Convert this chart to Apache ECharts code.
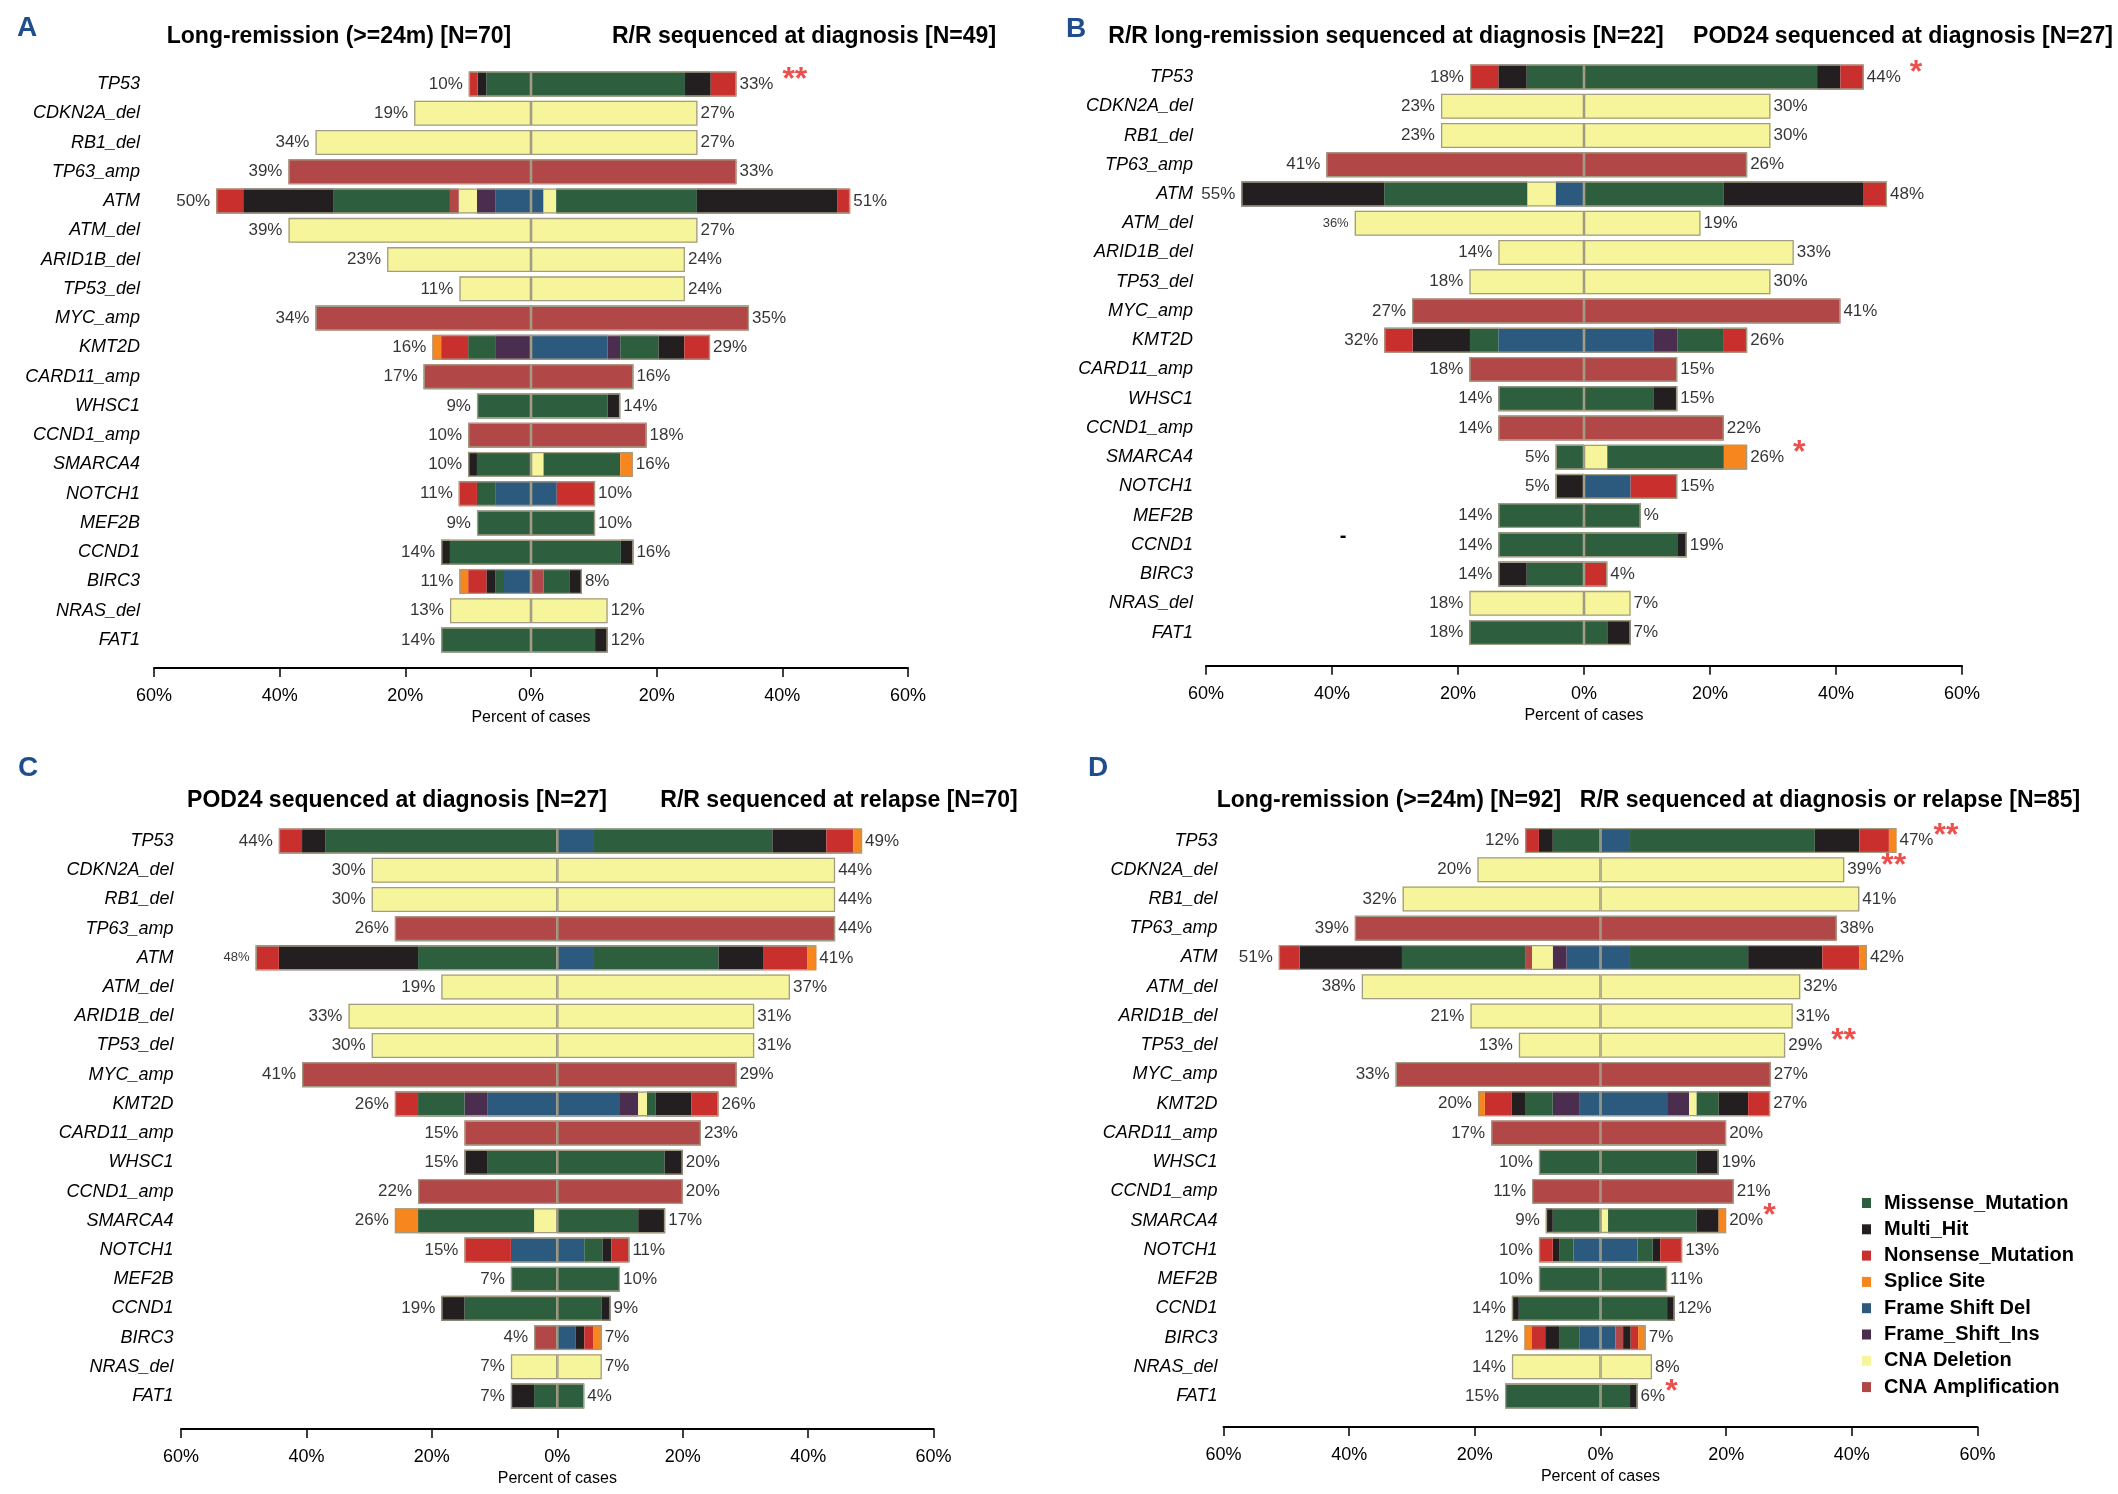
<!DOCTYPE html>
<html>
<head>
<meta charset="utf-8">
<title>Gene alteration frequencies by cohort</title>
<script src="https://cdn.jsdelivr.net/npm/echarts@6/dist/echarts.min.js"></script>
<style>
    html, body { margin: 0; padding: 0; background: #fff; }
    #chart { width: 2118px; height: 1494px; }
</style>
</head>
<body>
<div id="chart"></div>
<script>
// genes, top to bottom
var genes = ['TP53', 'CDKN2A_del', 'RB1_del', 'TP63_amp', 'ATM', 'ATM_del', 'ARID1B_del', 'TP53_del',
    'MYC_amp', 'KMT2D', 'CARD11_amp', 'WHSC1', 'CCND1_amp', 'SMARCA4', 'NOTCH1', 'MEF2B', 'CCND1',
    'BIRC3', 'NRAS_del', 'FAT1'];

// alteration classes, in stacking order from the 0% line outward
var types = ['Frame Shift Del', 'Frame_Shift_Ins', 'CNA Deletion', 'CNA Amplification',
    'Missense_Mutation', 'Multi_Hit', 'Nonsense_Mutation', 'Splice Site'];
var typeColors = ['#2c5a7e', '#4a2d4f', '#f6f59c', '#b24747', '#2d5e3e', '#231f20', '#c9302d', '#f7861f'];
var legendOrder = ['Missense_Mutation', 'Multi_Hit', 'Nonsense_Mutation', 'Splice Site',
    'Frame Shift Del', 'Frame_Shift_Ins', 'CNA Deletion', 'CNA Amplification'];

// percent of cases, one row per gene:
//   [FrameShiftDel, FrameShiftIns, CNADel, CNAAmp, Missense, MultiHit, Nonsense, Splice]
var aLeft = [
    [0, 0, 0, 0, 7.1, 1.4, 1.4, 0],
    [0, 0, 18.6, 0, 0, 0, 0, 0],
    [0, 0, 34.3, 0, 0, 0, 0, 0],
    [0, 0, 0, 38.6, 0, 0, 0, 0],
    [5.7, 2.9, 2.9, 1.4, 18.6, 14.3, 4.3, 0],
    [0, 0, 38.6, 0, 0, 0, 0, 0],
    [0, 0, 22.9, 0, 0, 0, 0, 0],
    [0, 0, 11.4, 0, 0, 0, 0, 0],
    [0, 0, 0, 34.3, 0, 0, 0, 0],
    [0, 5.7, 0, 0, 4.3, 0, 4.3, 1.4],
    [0, 0, 0, 17.1, 0, 0, 0, 0],
    [0, 0, 0, 0, 8.6, 0, 0, 0],
    [0, 0, 0, 10.0, 0, 0, 0, 0],
    [0, 0, 0, 0, 8.6, 1.4, 0, 0],
    [5.7, 0, 0, 0, 2.9, 0, 2.9, 0],
    [0, 0, 0, 0, 8.6, 0, 0, 0],
    [0, 0, 0, 0, 12.9, 1.4, 0, 0],
    [4.3, 0, 0, 0, 1.4, 1.4, 2.9, 1.4],
    [0, 0, 12.9, 0, 0, 0, 0, 0],
    [0, 0, 0, 0, 14.3, 0, 0, 0]
];
var aRight = [
    [0, 0, 0, 0, 24.5, 4.1, 4.1, 0],
    [0, 0, 26.5, 0, 0, 0, 0, 0],
    [0, 0, 26.5, 0, 0, 0, 0, 0],
    [0, 0, 0, 32.7, 0, 0, 0, 0],
    [2.0, 0, 2.0, 0, 22.4, 22.4, 2.0, 0],
    [0, 0, 26.5, 0, 0, 0, 0, 0],
    [0, 0, 24.5, 0, 0, 0, 0, 0],
    [0, 0, 24.5, 0, 0, 0, 0, 0],
    [0, 0, 0, 34.7, 0, 0, 0, 0],
    [12.2, 2.0, 0, 0, 6.1, 4.1, 4.1, 0],
    [0, 0, 0, 16.3, 0, 0, 0, 0],
    [0, 0, 0, 0, 12.2, 2.0, 0, 0],
    [0, 0, 0, 18.4, 0, 0, 0, 0],
    [0, 0, 2.0, 0, 12.2, 0, 0, 2.0],
    [4.1, 0, 0, 0, 0, 0, 6.1, 0],
    [0, 0, 0, 0, 10.2, 0, 0, 0],
    [0, 0, 0, 0, 14.3, 2.0, 0, 0],
    [0, 0, 0, 2.0, 4.1, 2.0, 0, 0],
    [0, 0, 12.2, 0, 0, 0, 0, 0],
    [0, 0, 0, 0, 10.2, 2.0, 0, 0]
];
var bLeft = [
    [0, 0, 0, 0, 9.1, 4.5, 4.5, 0],
    [0, 0, 22.7, 0, 0, 0, 0, 0],
    [0, 0, 22.7, 0, 0, 0, 0, 0],
    [0, 0, 0, 40.9, 0, 0, 0, 0],
    [4.5, 0, 4.5, 0, 22.7, 22.7, 0, 0],
    [0, 0, 36.4, 0, 0, 0, 0, 0],
    [0, 0, 13.6, 0, 0, 0, 0, 0],
    [0, 0, 18.2, 0, 0, 0, 0, 0],
    [0, 0, 0, 27.3, 0, 0, 0, 0],
    [13.6, 0, 0, 0, 4.5, 9.1, 4.5, 0],
    [0, 0, 0, 18.2, 0, 0, 0, 0],
    [0, 0, 0, 0, 13.6, 0, 0, 0],
    [0, 0, 0, 13.6, 0, 0, 0, 0],
    [0, 0, 0, 0, 4.5, 0, 0, 0],
    [0, 0, 0, 0, 0, 4.5, 0, 0],
    [0, 0, 0, 0, 13.6, 0, 0, 0],
    [0, 0, 0, 0, 13.6, 0, 0, 0],
    [0, 0, 0, 0, 9.1, 4.5, 0, 0],
    [0, 0, 18.2, 0, 0, 0, 0, 0],
    [0, 0, 0, 0, 18.2, 0, 0, 0]
];
var bRight = [
    [0, 0, 0, 0, 37.0, 3.7, 3.7, 0],
    [0, 0, 29.6, 0, 0, 0, 0, 0],
    [0, 0, 29.6, 0, 0, 0, 0, 0],
    [0, 0, 0, 25.9, 0, 0, 0, 0],
    [0, 0, 0, 0, 22.2, 22.2, 3.7, 0],
    [0, 0, 18.5, 0, 0, 0, 0, 0],
    [0, 0, 33.3, 0, 0, 0, 0, 0],
    [0, 0, 29.6, 0, 0, 0, 0, 0],
    [0, 0, 0, 40.7, 0, 0, 0, 0],
    [11.1, 3.7, 0, 0, 7.4, 0, 3.7, 0],
    [0, 0, 0, 14.8, 0, 0, 0, 0],
    [0, 0, 0, 0, 11.1, 3.7, 0, 0],
    [0, 0, 0, 22.2, 0, 0, 0, 0],
    [0, 0, 3.7, 0, 18.5, 0, 0, 3.7],
    [7.4, 0, 0, 0, 0, 0, 7.4, 0],
    [0, 0, 0, 0, 9.0, 0, 0, 0],
    [0, 0, 0, 0, 14.8, 1.5, 0, 0],
    [0, 0, 0, 0, 0, 0, 3.7, 0],
    [0, 0, 7.4, 0, 0, 0, 0, 0],
    [0, 0, 0, 0, 3.7, 3.7, 0, 0]
];
var cLeft = [
    [0, 0, 0, 0, 37.0, 3.7, 3.7, 0],
    [0, 0, 29.6, 0, 0, 0, 0, 0],
    [0, 0, 29.6, 0, 0, 0, 0, 0],
    [0, 0, 0, 25.9, 0, 0, 0, 0],
    [0, 0, 0, 0, 22.2, 22.2, 3.7, 0],
    [0, 0, 18.5, 0, 0, 0, 0, 0],
    [0, 0, 33.3, 0, 0, 0, 0, 0],
    [0, 0, 29.6, 0, 0, 0, 0, 0],
    [0, 0, 0, 40.7, 0, 0, 0, 0],
    [11.1, 3.7, 0, 0, 7.4, 0, 3.7, 0],
    [0, 0, 0, 14.8, 0, 0, 0, 0],
    [0, 0, 0, 0, 11.1, 3.7, 0, 0],
    [0, 0, 0, 22.2, 0, 0, 0, 0],
    [0, 0, 3.7, 0, 18.5, 0, 0, 3.7],
    [7.4, 0, 0, 0, 0, 0, 7.4, 0],
    [0, 0, 0, 0, 7.4, 0, 0, 0],
    [0, 0, 0, 0, 14.8, 3.7, 0, 0],
    [0, 0, 0, 3.7, 0, 0, 0, 0],
    [0, 0, 7.4, 0, 0, 0, 0, 0],
    [0, 0, 0, 0, 3.7, 3.7, 0, 0]
];
var cRight = [
    [5.7, 0, 0, 0, 28.6, 8.6, 4.3, 1.4],
    [0, 0, 44.3, 0, 0, 0, 0, 0],
    [0, 0, 44.3, 0, 0, 0, 0, 0],
    [0, 0, 0, 44.3, 0, 0, 0, 0],
    [5.7, 0, 0, 0, 20.0, 7.1, 7.1, 1.4],
    [0, 0, 37.1, 0, 0, 0, 0, 0],
    [0, 0, 31.4, 0, 0, 0, 0, 0],
    [0, 0, 31.4, 0, 0, 0, 0, 0],
    [0, 0, 0, 28.6, 0, 0, 0, 0],
    [10.0, 2.9, 1.4, 0, 1.4, 5.7, 4.3, 0],
    [0, 0, 0, 22.9, 0, 0, 0, 0],
    [0, 0, 0, 0, 17.1, 2.9, 0, 0],
    [0, 0, 0, 20.0, 0, 0, 0, 0],
    [0, 0, 0, 0, 12.9, 4.3, 0, 0],
    [4.3, 0, 0, 0, 2.9, 1.4, 2.9, 0],
    [0, 0, 0, 0, 10.0, 0, 0, 0],
    [0, 0, 0, 0, 7.1, 1.4, 0, 0],
    [2.9, 0, 0, 0, 0, 1.4, 1.4, 1.4],
    [0, 0, 7.1, 0, 0, 0, 0, 0],
    [0, 0, 0, 0, 4.3, 0, 0, 0]
];
var dLeft = [
    [0, 0, 0, 0, 7.6, 2.2, 2.2, 0],
    [0, 0, 19.6, 0, 0, 0, 0, 0],
    [0, 0, 31.5, 0, 0, 0, 0, 0],
    [0, 0, 0, 39.1, 0, 0, 0, 0],
    [5.4, 2.2, 3.3, 1.1, 19.6, 16.3, 3.3, 0],
    [0, 0, 38.0, 0, 0, 0, 0, 0],
    [0, 0, 20.7, 0, 0, 0, 0, 0],
    [0, 0, 13.0, 0, 0, 0, 0, 0],
    [0, 0, 0, 32.6, 0, 0, 0, 0],
    [3.3, 4.3, 0, 0, 4.3, 2.2, 4.3, 1.1],
    [0, 0, 0, 17.4, 0, 0, 0, 0],
    [0, 0, 0, 0, 9.8, 0, 0, 0],
    [0, 0, 0, 10.9, 0, 0, 0, 0],
    [0, 0, 0, 0, 7.6, 1.1, 0, 0],
    [4.3, 0, 0, 0, 2.2, 1.1, 2.2, 0],
    [0, 0, 0, 0, 9.8, 0, 0, 0],
    [0, 0, 0, 0, 13.0, 1.1, 0, 0],
    [3.3, 0, 0, 0, 3.3, 2.2, 2.2, 1.1],
    [0, 0, 14.1, 0, 0, 0, 0, 0],
    [0, 0, 0, 0, 15.2, 0, 0, 0]
];
var dRight = [
    [4.7, 0, 0, 0, 29.4, 7.1, 4.7, 1.2],
    [0, 0, 38.8, 0, 0, 0, 0, 0],
    [0, 0, 41.2, 0, 0, 0, 0, 0],
    [0, 0, 0, 37.6, 0, 0, 0, 0],
    [4.7, 0, 0, 0, 18.8, 11.8, 5.9, 1.2],
    [0, 0, 31.8, 0, 0, 0, 0, 0],
    [0, 0, 30.6, 0, 0, 0, 0, 0],
    [0, 0, 29.4, 0, 0, 0, 0, 0],
    [0, 0, 0, 27.1, 0, 0, 0, 0],
    [10.6, 3.5, 1.2, 0, 3.5, 4.7, 3.5, 0],
    [0, 0, 0, 20.0, 0, 0, 0, 0],
    [0, 0, 0, 0, 15.3, 3.5, 0, 0],
    [0, 0, 0, 21.2, 0, 0, 0, 0],
    [0, 0, 1.2, 0, 14.1, 3.5, 0, 1.2],
    [5.9, 0, 0, 0, 2.4, 1.2, 3.5, 0],
    [0, 0, 0, 0, 10.6, 0, 0, 0],
    [0, 0, 0, 0, 10.6, 1.2, 0, 0],
    [2.4, 0, 0, 1.2, 0, 1.2, 1.2, 1.2],
    [0, 0, 8.2, 0, 0, 0, 0, 0],
    [0, 0, 0, 0, 4.7, 1.2, 0, 0]
];

// printed percent labels at the bar ends
var aLeftLab = ['10%','19%','34%','39%','50%','39%','23%','11%','34%','16%','17%','9%','10%','10%','11%','9%','14%','11%','13%','14%'];
var aRightLab = ['33%','27%','27%','33%','51%','27%','24%','24%','35%','29%','16%','14%','18%','16%','10%','10%','16%','8%','12%','12%'];
var bLeftLab = ['18%','23%','23%','41%','55%','36%','14%','18%','27%','32%','18%','14%','14%','5%','5%','14%','14%','14%','18%','18%'];
var bRightLab = ['44%','30%','30%','26%','48%','19%','33%','30%','41%','26%','15%','15%','22%','26%','15%','%','19%','4%','7%','7%'];
var cLeftLab = ['44%','30%','30%','26%','48%','19%','33%','30%','41%','26%','15%','15%','22%','26%','15%','7%','19%','4%','7%','7%'];
var cRightLab = ['49%','44%','44%','44%','41%','37%','31%','31%','29%','26%','23%','20%','20%','17%','11%','10%','9%','7%','7%','4%'];
var dLeftLab = ['12%','20%','32%','39%','51%','38%','21%','13%','33%','20%','17%','10%','11%','9%','10%','10%','14%','12%','14%','15%'];
var dRightLab = ['47%','39%','41%','38%','42%','32%','31%','29%','27%','27%','20%','19%','21%','20%','13%','11%','12%','7%','8%','6%'];

// significance marks after right-hand labels: [gene index, mark]
var aStars = [[0, ' **']];
var bStars = [[0, ' *'], [13, ' *']];
var cStars = [];
var dStars = [[0, '**'], [1, '**'], [7, ' **'], [13, '*'], [19, '*']];

var FONT = "'Liberation Sans', Arial, Helvetica, sans-serif";
var INK = '#000';

// layout of the four panels (pixels)
var panels = [
    { letter: 'A', lx: 27, ly: 28, left: aLeft, right: aRight, leftLab: aLeftLab, rightLab: aRightLab, stars: aStars, small: [],
      titles: [['Long-remission (>=24m) [N=70]', 339, 37], ['R/R sequenced at diagnosis [N=49]', 804, 37]],
      gx: 154, gw: 754, gy: 69.4, rowH: 29.26, offset: 13.4, geneMargin: 14 },
    { letter: 'B', lx: 1076, ly: 29, left: bLeft, right: bRight, leftLab: bLeftLab, rightLab: bRightLab, stars: bStars, small: [5],
      titles: [['R/R long-remission sequenced at diagnosis [N=22]', 1386, 37], ['POD24 sequenced at diagnosis [N=27]', 1903, 37]],
      gx: 1206, gw: 756, gy: 62.4, rowH: 29.24, offset: 18.5, geneMargin: 13 },
    { letter: 'C', lx: 28, ly: 768, left: cLeft, right: cRight, leftLab: cLeftLab, rightLab: cRightLab, stars: cStars, small: [4],
      titles: [['POD24 sequenced at diagnosis [N=27]', 397, 801], ['R/R sequenced at relapse [N=70]', 839, 801]],
      gx: 181, gw: 752.6, gy: 826.4, rowH: 29.21, offset: 18.4, geneMargin: 7.5 },
    { letter: 'D', lx: 1098, ly: 768, left: dLeft, right: dRight, leftLab: dLeftLab, rightLab: dRightLab, stars: dStars, small: [],
      titles: [['Long-remission (>=24m) [N=92]', 1389, 801], ['R/R sequenced at diagnosis or relapse [N=85]', 1830, 801]],
      gx: 1223.5, gw: 754, gy: 825.9, rowH: 29.24, offset: 16.3, geneMargin: 6 }
];

function total(row) {
    return row.reduce(function (a, b) { return a + b; }, 0);
}

var grids = [], xAxes = [], yAxes = [], series = [], graphics = [];

panels.forEach(function (p, i) {
    grids.push({ left: p.gx, top: p.gy, width: p.gw, height: p.rowH * genes.length });

    xAxes.push({
        gridIndex: i, type: 'value', min: -60, max: 60, interval: 20, offset: p.offset,
        axisLine: { show: true, onZero: false, lineStyle: { color: INK, width: 2 } },
        axisTick: { show: true, length: 9, lineStyle: { color: INK, width: 1.5 } },
        axisLabel: { formatter: function (v) { return Math.abs(v) + '%'; }, fontSize: 18, color: INK, margin: 19, fontFamily: FONT },
        splitLine: { show: false },
        name: 'Percent of cases', nameLocation: 'middle', nameGap: 42,
        nameTextStyle: { fontSize: 16, color: INK, fontFamily: FONT }
    });

    yAxes.push({
        gridIndex: i, type: 'category', data: genes, inverse: true,
        axisLine: { show: false }, axisTick: { show: false },
        axisLabel: { interval: 0, fontStyle: 'italic', fontSize: 18, color: INK, margin: p.geneMargin, fontFamily: FONT }
    });

    // coloured segments: left group negative, right group positive, one stack
    types.forEach(function (t, k) {
        [['L', p.left, -1], ['R', p.right, 1]].forEach(function (side) {
            series.push({
                name: t, type: 'bar', xAxisIndex: i, yAxisIndex: i, stack: 'seg' + i,
                barWidth: 25, barGap: '-100%', silent: true,
                itemStyle: { color: typeColors[k] },
                data: side[1].map(function (r) { return r[k] ? side[2] * r[k] : null; })
            });
        });
    });

    // thin outline round each half bar (also draws the 0% seam)
    [['L', p.left, -1], ['R', p.right, 1]].forEach(function (side) {
        series.push({
            name: 'outline', type: 'bar', xAxisIndex: i, yAxisIndex: i, stack: 'out' + i,
            barWidth: 25, barGap: '-100%', silent: true, z: 3,
            itemStyle: { color: 'rgba(0,0,0,0)', borderColor: '#a29c84', borderWidth: 1.3 },
            data: side[1].map(function (r) { return side[2] * total(r); })
        });
    });

    // percent labels at the bar ends
    var rich = {
        v: { fontSize: 17, color: INK, fontFamily: FONT },
        m: { fontSize: 13, color: INK, fontFamily: FONT },
        s: { fontSize: 32, fontWeight: 'bold', color: '#e8231f', fontFamily: FONT, padding: [0, 0, 8, 0] }
    };
    series.push({
        type: 'scatter', xAxisIndex: i, yAxisIndex: i, symbolSize: 0, silent: true, z: 4,
        data: p.left.map(function (r, g) { return [-total(r), g]; }),
        label: {
            show: true, position: 'left', distance: 6, rich: rich,
            formatter: function (d) {
                var cls = p.small.indexOf(d.dataIndex) >= 0 ? 'm' : 'v';
                return '{' + cls + '|' + p.leftLab[d.dataIndex] + '}';
            }
        }
    });
    series.push({
        type: 'scatter', xAxisIndex: i, yAxisIndex: i, symbolSize: 0, silent: true, z: 4,
        data: p.right.map(function (r, g) { return [total(r), g]; }),
        label: {
            show: true, position: 'right', distance: 3, rich: rich,
            formatter: function (d) {
                var s = '{v|' + p.rightLab[d.dataIndex] + '}';
                p.stars.forEach(function (st) {
                    if (st[0] === d.dataIndex) s += '{s|' + st[1] + '}';
                });
                return s;
            }
        }
    });

    graphics.push({
        type: 'text', x: p.lx, y: p.ly,
        style: { text: p.letter, fill: '#1f4e8c', font: 'bold 28px ' + FONT, textAlign: 'center', textVerticalAlign: 'middle' }
    });
    p.titles.forEach(function (tt) {
        graphics.push({
            type: 'text', x: tt[1], y: tt[2],
            style: { text: tt[0], fill: INK, font: 'bold 23px ' + FONT, textAlign: 'center', textVerticalAlign: 'middle' }
        });
    });
});

// stray dash in panel B
graphics.push({
    type: 'text', x: 1343, y: 536,
    style: { text: '-', fill: INK, font: 'bold 20px ' + FONT, textAlign: 'center', textVerticalAlign: 'middle' }
});

var chart = echarts.init(document.getElementById('chart'));
chart.setOption({
    backgroundColor: '#fff',
    animation: false,
    textStyle: { fontFamily: FONT },
    grid: grids,
    xAxis: xAxes,
    yAxis: yAxes,
    legend: {
        data: legendOrder, orient: 'vertical', left: 1857, top: 1188,
        icon: 'rect', itemWidth: 9, itemHeight: 10, itemGap: 6.3, selectedMode: false,
        textStyle: { fontSize: 20, fontWeight: 'bold', color: INK, fontFamily: FONT, lineHeight: 20, padding: [0, 0, 0, 8] }
    },
    graphic: graphics,
    series: series
});
</script>
</body>
</html>
